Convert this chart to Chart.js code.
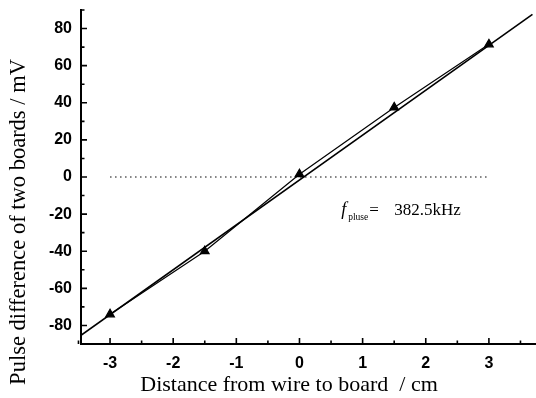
<!DOCTYPE html>
<html>
<head>
<meta charset="utf-8">
<script src="https://cdn.jsdelivr.net/npm/chart.js@4.4.1/dist/chart.umd.min.js"></script>
<style>
html,body{margin:0;padding:0;background:#fff;overflow:hidden;}
#wrap{width:536px;height:398px;}
canvas{display:block;}
</style>
</head>
<body>
<div id="wrap"><canvas id="c" width="536" height="398"></canvas></div>
<script>
// Data
const distance = [-3, -1.5, 0, 1.5, 3];
const pulseDiff = [-74, -40, 1.5, 37.5, 71.5];
const fitX = [-3.46, 3.69];
const fitY = [-85.3, 87.6];
const zeroX = [-3, 3];
const zeroY = [0, 0];
const xTickLabels = [-3, -2, -1, 0, 1, 2, 3];
const yTickLabels = [-80, -60, -40, -20, 0, 20, 40, 60, 80];
const xMinorTicks = [-3.5, -2.5, -1.5, -0.5, 0.5, 1.5, 2.5, 3.5];
const yMinorTicks = [-90, -70, -50, -30, -10, 10, 30, 50, 70, 90];

const toPts = (xs, ys) => xs.map((x, i) => ({x: x, y: ys[i]}));

const inwardTicks = {
  id: 'inwardTicks',
  afterDraw(chart) {
    const ctx = chart.ctx, xs = chart.scales.x, ys = chart.scales.y;
    const a = chart.chartArea;
    ctx.save();
    ctx.strokeStyle = '#000';
    ctx.lineWidth = 1.6;
    ctx.beginPath();
    yTickLabels.forEach(v => { const p = ys.getPixelForValue(v); ctx.moveTo(a.left, p); ctx.lineTo(a.left + 6, p); });
    yMinorTicks.forEach(v => { const p = ys.getPixelForValue(v); ctx.moveTo(a.left, p); ctx.lineTo(a.left + 3.5, p); });
    xTickLabels.forEach(v => { const p = xs.getPixelForValue(v); ctx.moveTo(p, a.bottom); ctx.lineTo(p, a.bottom - 6); });
    xMinorTicks.forEach(v => { const p = xs.getPixelForValue(v); ctx.moveTo(p, a.bottom); ctx.lineTo(p, a.bottom - 3.5); });
    ctx.stroke();

    // axis titles
    ctx.fillStyle = '#000';
    ctx.textAlign = 'center';
    ctx.textBaseline = 'middle';
    ctx.font = '22px "Liberation Serif"';
    ctx.fillText('Distance from wire to board  / cm', 289, 385);
    ctx.save();
    ctx.translate(19, 222);
    ctx.rotate(-Math.PI / 2);
    ctx.font = '22.5px "Liberation Serif"';
    ctx.fillText('Pulse difference of two boards / mV', 0, 0);
    ctx.restore();

    // annotation
    const ax = xs.getPixelForValue(0.66), ay = ys.getPixelForValue(-20.5);
    ctx.textAlign = 'left';
    ctx.textBaseline = 'alphabetic';
    ctx.font = 'italic 18px "Liberation Serif"';
    ctx.fillText('f', ax, ay);
    ctx.font = '9.5px "Liberation Serif"';
    ctx.fillText('pluse', ax + 7, ay + 5);
    ctx.font = '17px "Liberation Serif"';
    ctx.fillText('=', ax + 28, ay);
    ctx.fillText('382.5kHz', ax + 53, ay);
    ctx.restore();
  }
};

new Chart(document.getElementById('c'), {
  type: 'scatter',
  data: {
    datasets: [
      { data: toPts(fitX, fitY), showLine: true, borderColor: '#000', borderWidth: 1.6, pointRadius: 0 },
      { data: toPts(distance, pulseDiff), showLine: true, borderColor: '#000', borderWidth: 1.2,
        pointStyle: 'triangle', pointRadius: 5, pointBackgroundColor: '#000', pointBorderColor: '#000' },
      { data: toPts(zeroX, zeroY), showLine: true, borderColor: '#000', borderWidth: 1.2,
        borderDash: [1.5, 3.5], pointRadius: 0 }
    ]
  },
  options: {
    responsive: false,
    animation: false,
    layout: { autoPadding: false, padding: { left: 0, right: 1, top: 10, bottom: 0 } },
    plugins: { legend: { display: false }, tooltip: { enabled: false } },
    scales: {
      x: {
        type: 'linear', min: -3.46, max: 3.73,
        afterBuildTicks: s => { s.ticks = xTickLabels.map(v => ({value: v})); },
        afterFit: s => { s.height = 54; s.paddingLeft = 0; s.paddingRight = 0; },
        grid: { display: false, drawTicks: false },
        border: { display: true, color: '#000', width: 2 },
        ticks: { color: '#000', padding: 10, maxRotation: 0, font: { family: '"Liberation Sans"', size: 16, weight: 'bold' } }
      },
      y: {
        type: 'linear', min: -90, max: 90,
        afterBuildTicks: s => { s.ticks = yTickLabels.map(v => ({value: v})); },
        afterFit: s => { s.width = 81; s.paddingTop = 0; s.paddingBottom = 0; },
        grid: { display: false, drawTicks: false },
        border: { display: true, color: '#000', width: 2 },
        ticks: { color: '#000', padding: 9, font: { family: '"Liberation Sans"', size: 16, weight: 'bold' } }
      }
    }
  },
  plugins: [inwardTicks]
});
</script>
</body>
</html>
